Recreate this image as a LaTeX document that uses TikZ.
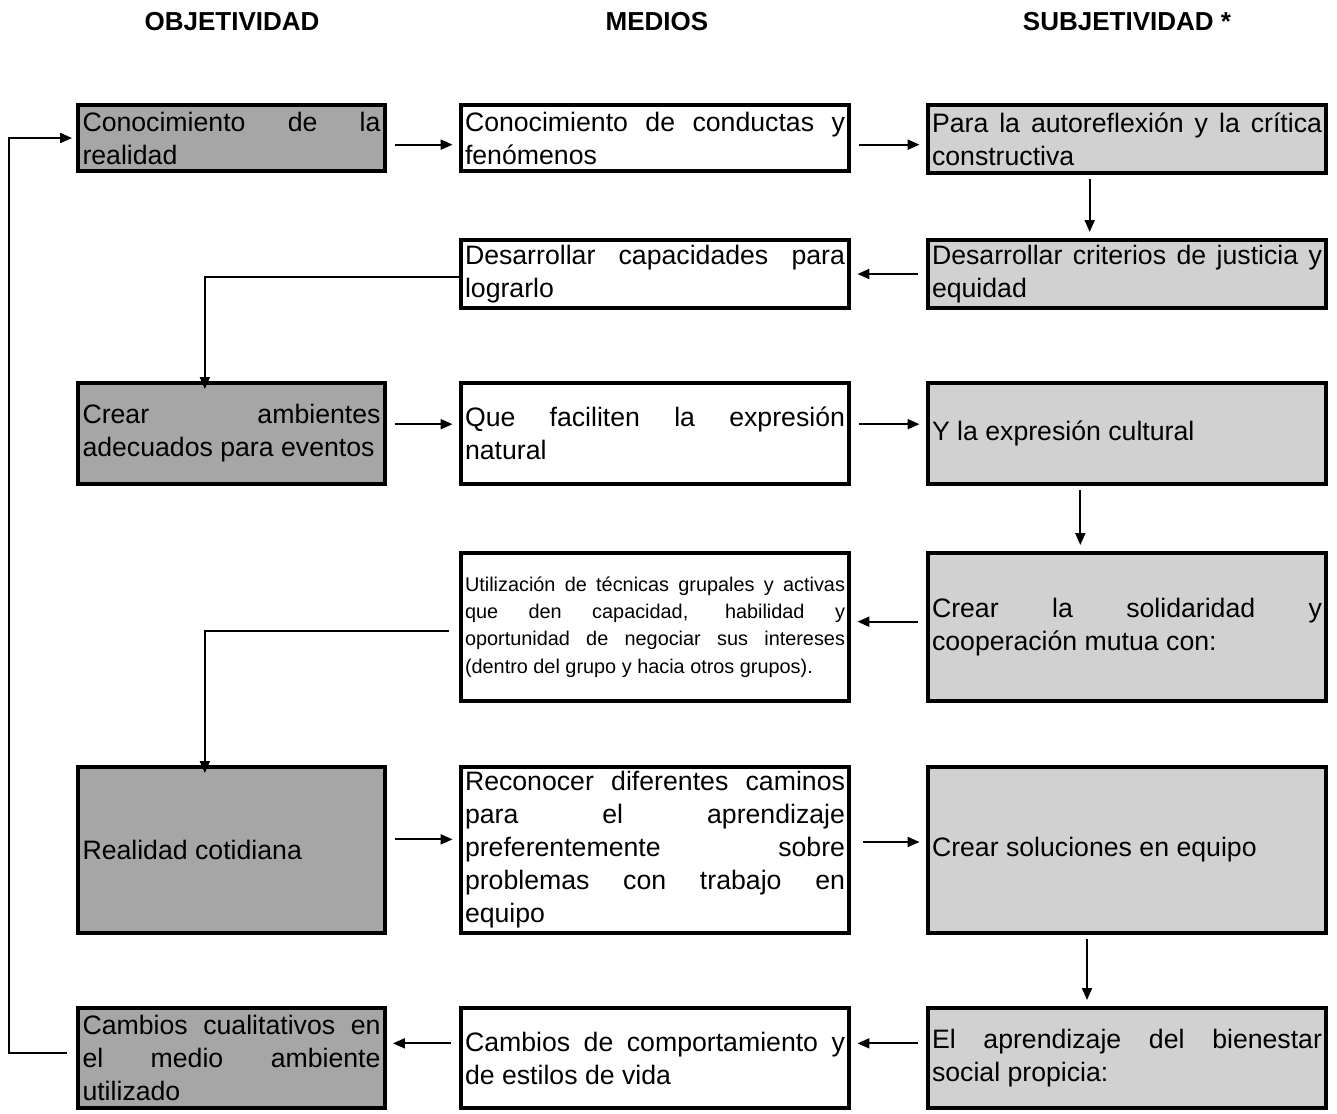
\documentclass[tikz,border=0pt]{standalone}
\usepackage{fontspec}
\setmainfont{Liberation Sans}
\usetikzlibrary{positioning, arrows.meta}
\hyphenpenalty=10000
\exhyphenpenalty=10000

\tikzset{
  pbox/.style={draw=black, line width=3pt, rectangle, inner ysep=0pt, align=justify,
    font=\fontsize{20}{24.75}\selectfont},
  objbox/.style={pbox, fill=black!35, minimum width=225.75pt, text width=223.5pt},
  medbox/.style={pbox, fill=white, minimum width=289.5pt, text width=285pt},
  subbox/.style={pbox, fill=black!18, minimum width=298.5pt, text width=292.5pt},
  small/.style={font=\fontsize{14.9}{20.6}\selectfont},
  head/.style={font=\fontsize{19.5}{22}\selectfont\bfseries},
  arr/.style={line width=1.5pt, -{Triangle[length=9pt,width=7.5pt]}},
  lnk/.style={line width=1.2pt},
}

\begin{document}
\begin{tikzpicture}[x=0.75pt, y=-0.75pt]
	\useasboundingbox (0,0) rectangle (1337,1113);
	% column heads
	\node[head] (hobj) at (232,22) {OBJETIVIDAD};
	\node[head] (hmed) at (657,22) {MEDIOS};
	\node[head] (hsub) at (1127,22) {SUBJETIVIDAD *};
	% row 1
	\node[objbox, minimum height=49.5pt] (o1) at (231.5,138) {Conocimiento de la\linebreak realidad};
	\node[medbox, minimum height=49.5pt] (m1) at (655,138) {Conocimiento de conductas y\linebreak fenómenos};
	\node[subbox, minimum height=51pt] (s1) at (1127,139) {Para la autoreflexión y la crítica\linebreak constructiva};
	% row 2
	\node[medbox, minimum height=51pt] (m2) at (655,274) {Desarrollar capacidades para\linebreak lograrlo};
	\node[subbox, minimum height=51pt] (s2) at (1127,274) {Desarrollar criterios de justicia y\linebreak equidad};
	% row 3
	\node[objbox, minimum height=75.75pt] (o3) at (231.5,433.5) {Crear ambientes\linebreak adecuados para eventos};
	\node[medbox, minimum height=75.75pt] (m3) at (655,433.5) {Que faciliten la expresión\linebreak natural};
	\node[subbox, minimum height=75.75pt] (s3) at (1127,433.5) {Y la expresión cultural};
	% row 4
	\node[medbox, small, minimum height=111pt] (m4) at (655,627) {Utilización de técnicas grupales y activas\linebreak que den capacidad, habilidad y\linebreak oportunidad de negociar sus intereses\linebreak (dentro del grupo y hacia otros grupos).};
	\node[subbox, minimum height=111pt] (s4) at (1127,627) {Crear la solidaridad y\linebreak cooperación mutua con:};
	% row 5
	\node[objbox, minimum height=124.5pt] (o5) at (231.5,850) {Realidad cotidiana};
	\node[medbox, minimum height=124.5pt] (m5) at (655,850) {Reconocer diferentes caminos\linebreak para el aprendizaje\linebreak preferentemente sobre\linebreak problemas con trabajo en\linebreak equipo};
	\node[subbox, minimum height=124.5pt] (s5) at (1127,850) {Crear soluciones en equipo};
	% row 6
	\node[objbox, minimum height=75pt] (o6) at (231.5,1058) {Cambios cualitativos en\linebreak el medio ambiente\linebreak utilizado};
	\node[medbox, minimum height=75pt] (m6) at (655,1058) {Cambios de comportamiento y\linebreak de estilos de vida};
	\node[subbox, minimum height=75pt] (s6) at (1127,1058) {El aprendizaje del bienestar\linebreak social propicia:};

	% connectors
	\draw[arr, shorten <=6pt, shorten >=4.5pt] ([yshift=-5pt]o1.east) -- ([yshift=-5pt]m1.west);
	\draw[arr, shorten <=6pt, shorten >=4.5pt] ([yshift=-5pt]m1.east) -- ([yshift=-5pt]s1.west |- m1.east);
	\draw[arr, shorten <=3pt, shorten >=4.5pt] ([xshift=-28pt]s1.south) -- ([xshift=-28pt]s2.north);
	\draw[arr, shorten <=6pt, shorten >=4.5pt] (s2.west) -- (m2.east);
	\draw[lnk, arr] ([yshift=-2pt]m2.west) -| ([xshift=-20pt, yshift=-6pt]o3.north);
	\draw[arr, shorten <=6pt, shorten >=4.5pt] ([yshift=7pt]o3.east) -- ([yshift=7pt]m3.west);
	\draw[arr, shorten <=6pt, shorten >=4.5pt] ([yshift=7pt]m3.east) -- ([yshift=7pt]s3.west);
	\draw[arr, shorten <=3pt, shorten >=4.5pt] ([xshift=-35pt]s3.south) -- ([xshift=-35pt]s4.north);
	\draw[arr, shorten <=6pt, shorten >=4.5pt] ([yshift=4pt]s4.west) -- ([yshift=4pt]m4.east);
	\draw[lnk, arr] ([xshift=-7pt, yshift=-3pt]m4.west) -| ([xshift=-20pt, yshift=-6pt]o5.north);
	\draw[arr, shorten <=6pt, shorten >=4.5pt] ([yshift=8pt]o5.east) -- ([yshift=8pt]m5.west);
	\draw[arr, shorten <=9pt, shorten >=4.5pt] ([yshift=6pt]m5.east) -- ([yshift=6pt]s5.west);
	\draw[arr, shorten <=3pt, shorten >=4.5pt] ([xshift=-30pt]s5.south) -- ([xshift=-30pt]s6.north);
	\draw[arr, shorten <=6pt, shorten >=4.5pt] ([yshift=11pt]s6.west) -- ([yshift=11pt]m6.east);
	\draw[arr, shorten <=6pt, shorten >=4.5pt] ([yshift=11pt]m6.west) -- ([yshift=11pt]o6.east);
	\draw[lnk, arr, shorten >=3pt] ([xshift=-7pt, yshift=4pt]o6.west) -- ++(-58,0) |- (o1.west);
\end{tikzpicture}
\end{document}
